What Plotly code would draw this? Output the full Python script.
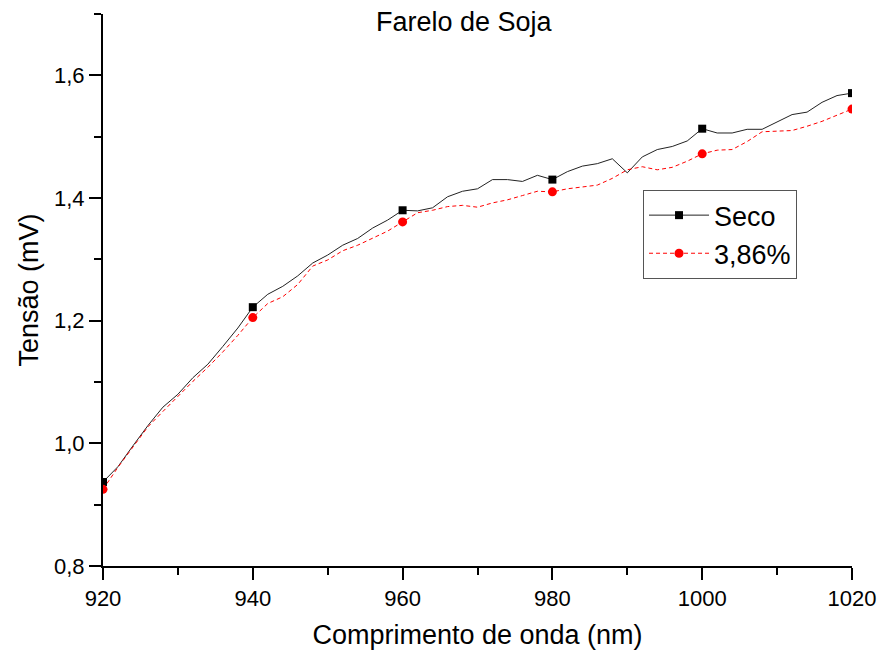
import plotly.graph_objects as go

# Wavelength grid (nm), sampled every 2 nm
wavelength = list(range(920, 1021, 2))

# Measured voltage (mV) for dry soybean meal
seco = [
    0.937, 0.962, 0.996, 1.029, 1.059, 1.080, 1.107, 1.129, 1.158, 1.188,
    1.222, 1.243, 1.256, 1.273, 1.294, 1.307, 1.323, 1.334, 1.351, 1.364,
    1.380, 1.379, 1.384, 1.402, 1.411, 1.415, 1.430, 1.430, 1.427, 1.437,
    1.430, 1.443, 1.452, 1.456, 1.464, 1.441, 1.467, 1.479, 1.484, 1.493,
    1.513, 1.506, 1.506, 1.512, 1.512, 1.524, 1.536, 1.540, 1.556, 1.567,
    1.571,
]

# Measured voltage (mV) for soybean meal at 3,86% moisture
umido = [
    0.925, 0.961, 0.994, 1.027, 1.052, 1.077, 1.101, 1.124, 1.149, 1.176,
    1.205, 1.228, 1.239, 1.259, 1.289, 1.299, 1.314, 1.323, 1.335, 1.346,
    1.361, 1.376, 1.380, 1.386, 1.388, 1.385, 1.392, 1.397, 1.404, 1.411,
    1.410, 1.415, 1.418, 1.421, 1.432, 1.446, 1.451, 1.446, 1.450, 1.460,
    1.472, 1.478, 1.479, 1.492, 1.508, 1.509, 1.510, 1.517, 1.525, 1.535,
    1.545,
]

series_names = ["Seco", "3,86%"]
y_ticks = [0.8, 1.0, 1.2, 1.4, 1.6]
x_ticks = [920, 940, 960, 980, 1000, 1020]

FONT = "Liberation Sans, Arial, sans-serif"
BLACK = "#000000"
RED = "#ff0000"

# markers are shown every 20 nm
marker_idx = [i for i, w in enumerate(wavelength) if (w - 920) % 20 == 0]
mx = [wavelength[i] for i in marker_idx]

fig = go.Figure()

# continuous curves
fig.add_trace(go.Scatter(x=wavelength, y=seco, mode="lines",
                         line=dict(color="#222222", width=1),
                         showlegend=False, hoverinfo="skip"))
fig.add_trace(go.Scatter(x=wavelength, y=umido, mode="lines",
                         line=dict(color=RED, width=1, dash="4px,3px"),
                         showlegend=False, hoverinfo="skip"))

# symbols every 20 nm
fig.add_trace(go.Scatter(x=mx, y=[seco[i] for i in marker_idx], mode="markers",
                         marker=dict(symbol="square", size=8, color=BLACK),
                         showlegend=False))
fig.add_trace(go.Scatter(x=mx, y=[umido[i] for i in marker_idx], mode="markers",
                         marker=dict(symbol="circle", size=9, color=RED),
                         showlegend=False))

# legend entries
fig.add_trace(go.Scatter(x=[None], y=[None], mode="lines+markers", name=series_names[0],
                         line=dict(color="#222222", width=1),
                         marker=dict(symbol="square", size=8, color=BLACK)))
fig.add_trace(go.Scatter(x=[None], y=[None], mode="lines+markers", name=series_names[1],
                         line=dict(color=RED, width=1, dash="4px,3px"),
                         marker=dict(symbol="circle", size=9, color=RED)))

axis_common = dict(
    showgrid=False, zeroline=False, showline=True, linecolor=BLACK, linewidth=2,
    ticks="outside", ticklen=12, tickwidth=2, tickcolor=BLACK,
    tickfont=dict(family=FONT, size=22, color=BLACK),
    mirror=False,
)

fig.update_xaxes(
    range=[920, 1020], tickvals=x_ticks,
    minor=dict(dtick=10, tick0=920, ticks="outside", ticklen=7, tickwidth=2, tickcolor=BLACK),
    title=dict(text="Comprimento de onda (nm)", font=dict(family=FONT, size=27, color=BLACK), standoff=15),
    **axis_common,
)
fig.update_yaxes(
    range=[0.8, 1.7], tickvals=y_ticks, tickformat=".1f",
    minor=dict(dtick=0.1, tick0=0.8, ticks="outside", ticklen=7, tickwidth=2, tickcolor=BLACK),
    title=dict(text="Tensão (mV)", font=dict(family=FONT, size=27, color=BLACK), standoff=8),
    **axis_common,
)

fig.add_annotation(
    text="Farelo de Soja", xref="paper", yref="paper",
    x=0.4826, y=0.9855, xanchor="center", yanchor="middle", showarrow=False,
    font=dict(family=FONT, size=27, color=BLACK),
)

fig.update_layout(
    width=882, height=655,
    margin=dict(l=103, r=30, t=14, b=89, autoexpand=False),
    paper_bgcolor="white", plot_bgcolor="white",
    separators=", ",
    legend=dict(
        x=0.721, y=0.681, xanchor="left", yanchor="top",
        bgcolor="white", bordercolor="#555555", borderwidth=1,
        font=dict(family=FONT, size=27, color=BLACK),
        itemwidth=60, tracegroupgap=0,
    ),
)

fig.write_html("out.html")
